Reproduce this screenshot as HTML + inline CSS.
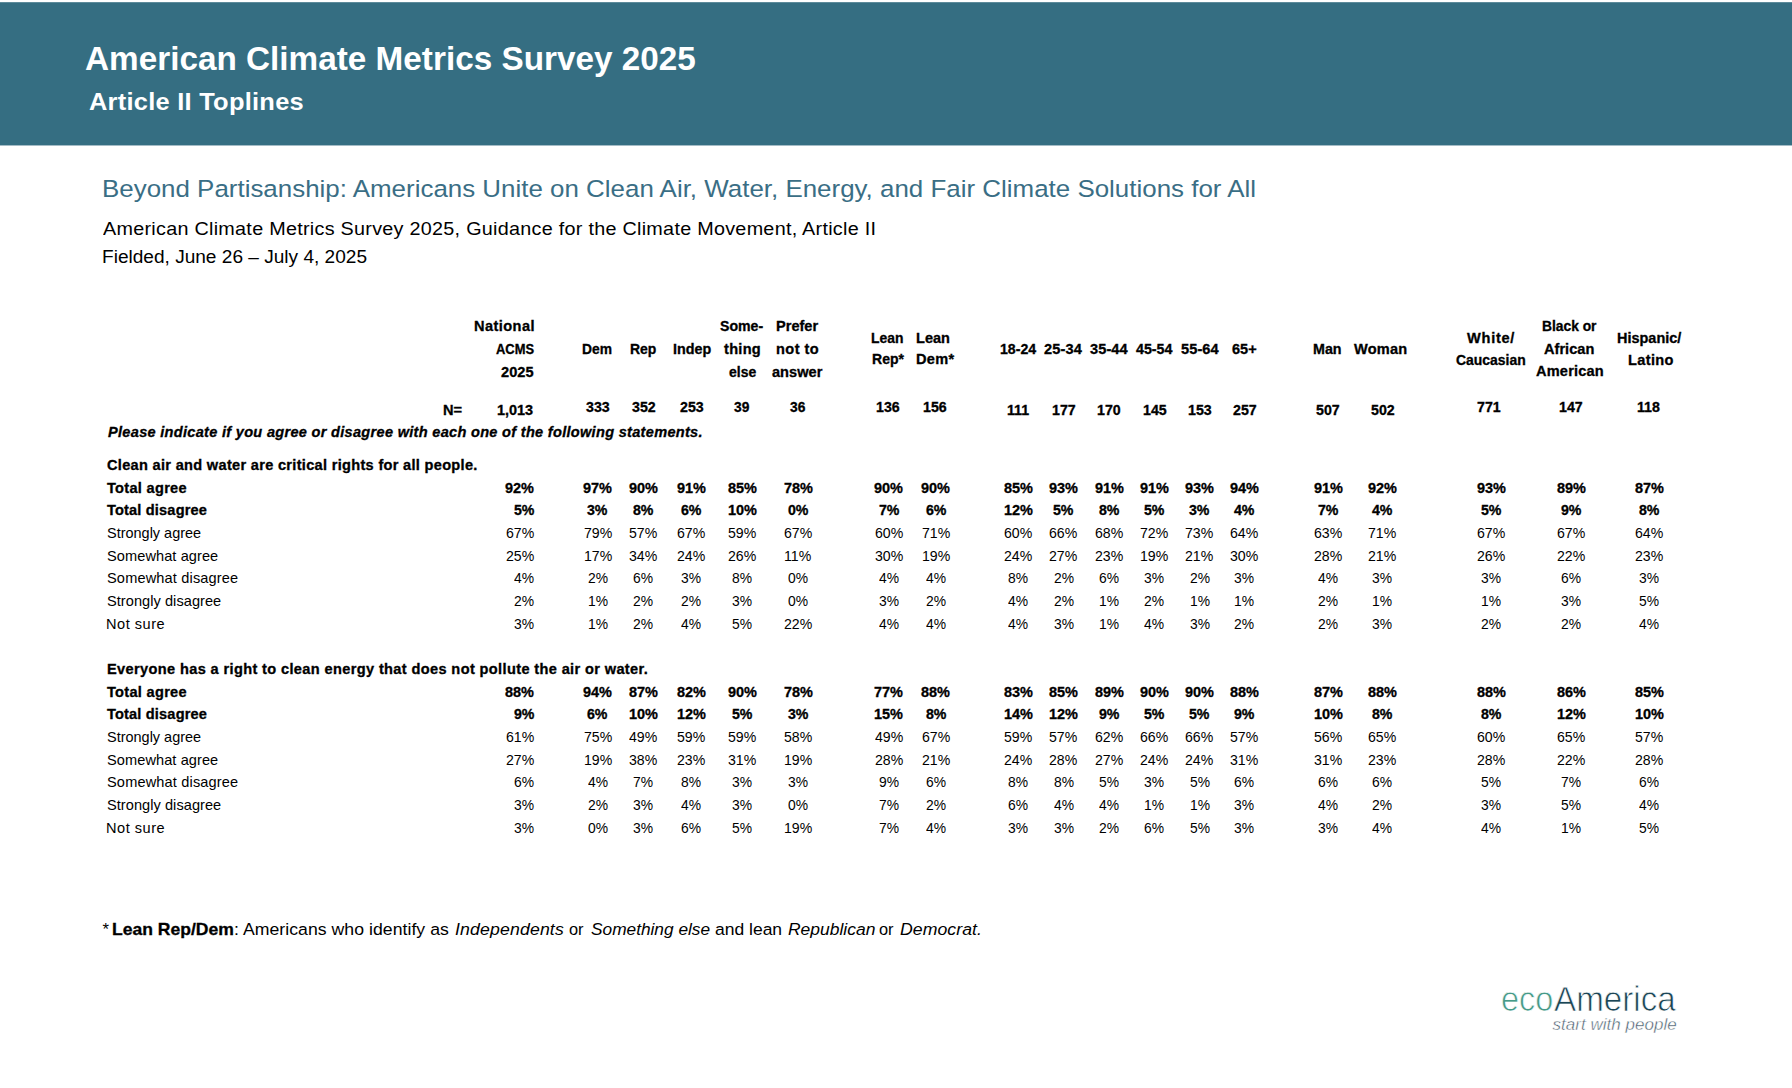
<!DOCTYPE html>
<html lang="en"><head><meta charset="utf-8"><title>American Climate Metrics Survey 2025 - Article II Toplines</title>
<style>
html,body{margin:0;padding:0;background:#fff}
body{width:1792px;height:1088px;position:relative;overflow:hidden;font-family:"Liberation Sans",sans-serif;-webkit-font-smoothing:antialiased}
#banner{position:absolute;left:0;top:2px;width:1792px;height:142px;background:#356e82;border-top:1px solid #5d8b9b;border-bottom:1px solid #a4bcc6}
#page span{position:absolute;white-space:pre;line-height:1;font-kerning:normal;transform-origin:0 0}
.k0{font-size:33px;font-weight:700;font-style:normal;color:#fff}
.k1{font-size:24px;font-weight:700;font-style:normal;color:#fff}
.k2{font-size:24.5px;font-weight:400;font-style:normal;color:#3a6e85}
.k3{font-size:18.67px;font-weight:400;font-style:normal;color:#000}
.k4{font-size:13.75px;font-weight:700;font-style:normal;color:#000;-webkit-text-stroke:0.3px #000}
.k5{font-size:13.75px;font-weight:700;font-style:italic;color:#000;-webkit-text-stroke:0.3px #000}
.k6{font-size:13.75px;font-weight:400;font-style:normal;color:#000}
.k7{font-size:16.67px;font-weight:400;font-style:normal;color:#000}
.k8{font-size:16.67px;font-weight:700;font-style:normal;color:#000;-webkit-text-stroke:0.3px #000}
.k9{font-size:16.67px;font-weight:400;font-style:italic;color:#000}

#logo span{position:absolute;white-space:pre;line-height:1;-webkit-text-stroke:0.75px #fff;paint-order:fill stroke}
#lg-eco{left:1500.7px;top:982px;font-size:35.5px;color:#469a88;transform-origin:0 0;transform:scaleX(0.915)}
#lg-am{left:1553.5px;top:982px;font-size:35.5px;color:#1c4656;transform-origin:0 0;transform:scaleX(0.935)}
#lg-tag{left:1552.6px;top:1016px;font-size:17px;font-style:italic;color:#45596a;letter-spacing:0.02px;-webkit-text-stroke-width:0.45px !important}
</style></head>
<body>
<div id="banner"></div>
<div id="page">
<span class="k0" style="left:85.40px;top:42px;transform:scaleX(1.0092)">American Climate Metrics Survey 2025</span>
<span class="k1" style="left:89.30px;top:90px;letter-spacing:0.237px;transform:scaleX(1.0600)">Article II Toplines</span>
<span class="k2" style="left:101.58px;top:177px;transform:scaleX(1.0580)">Beyond Partisanship: Americans Unite on Clean Air, Water, Energy, and Fair Climate Solutions for All</span>
<span class="k3" style="left:102.60px;top:220px;letter-spacing:0.257px;transform:scaleX(1.0600)">American Climate Metrics Survey 2025, Guidance for the Climate Movement, Article II</span>
<span class="k3" style="left:102.38px;top:248px;transform:scaleX(1.0220)">Fielded, June 26 – July 4, 2025</span>
<span class="k4" style="left:474.00px;top:320px;letter-spacing:0.401px;transform:scaleX(1.0600)">National</span>
<span class="k4" style="left:495.70px;top:343px;transform:scaleX(0.9401)">ACMS</span>
<span class="k4" style="left:500.80px;top:366px;letter-spacing:0.064px;transform:scaleX(1.0600)">2025</span>
<span class="k4" style="left:581.95px;top:343px;transform:scaleX(1.0042)">Dem</span>
<span class="k4" style="left:630.00px;top:343px;transform:scaleX(1.0165)">Rep</span>
<span class="k4" style="left:673.10px;top:343px;transform:scaleX(1.0423)">Indep</span>
<span class="k4" style="left:720.40px;top:320px;transform:scaleX(1.0273)">Some-</span>
<span class="k4" style="left:724.25px;top:343px;letter-spacing:0.262px;transform:scaleX(1.0600)">thing</span>
<span class="k4" style="left:728.50px;top:366px;transform:scaleX(1.0179)">else</span>
<span class="k4" style="left:775.70px;top:320px;transform:scaleX(1.0595)">Prefer</span>
<span class="k4" style="left:776.15px;top:343px;letter-spacing:0.426px;transform:scaleX(1.0600)">not to</span>
<span class="k4" style="left:771.70px;top:366px;letter-spacing:0.016px;transform:scaleX(1.0600)">answer</span>
<span class="k4" style="left:871.10px;top:332px;transform:scaleX(1.0097)">Lean</span>
<span class="k4" style="left:871.85px;top:353px;transform:scaleX(1.0226)">Rep*</span>
<span class="k4" style="left:916.05px;top:332px;transform:scaleX(1.0570)">Lean</span>
<span class="k4" style="left:916.00px;top:353px;letter-spacing:0.267px;transform:scaleX(1.0600)">Dem*</span>
<span class="k4" style="left:1000.05px;top:343px;transform:scaleX(1.0276)">18-24</span>
<span class="k4" style="left:1044.40px;top:343px;letter-spacing:0.129px;transform:scaleX(1.0600)">25-34</span>
<span class="k4" style="left:1089.60px;top:343px;letter-spacing:0.082px;transform:scaleX(1.0600)">35-44</span>
<span class="k4" style="left:1135.70px;top:343px;transform:scaleX(1.0360)">45-54</span>
<span class="k4" style="left:1180.50px;top:343px;letter-spacing:0.082px;transform:scaleX(1.0600)">55-64</span>
<span class="k4" style="left:1231.60px;top:343px;transform:scaleX(1.0561)">65+</span>
<span class="k4" style="left:1312.95px;top:343px;transform:scaleX(1.0369)">Man</span>
<span class="k4" style="left:1354.40px;top:343px;letter-spacing:0.202px;transform:scaleX(1.0600)">Woman</span>
<span class="k4" style="left:1467.40px;top:332px;letter-spacing:0.697px;transform:scaleX(1.0600)">White/</span>
<span class="k4" style="left:1455.75px;top:354px;transform:scaleX(1.0134)">Caucasian</span>
<span class="k4" style="left:1541.95px;top:320px;transform:scaleX(1.0035)">Black or</span>
<span class="k4" style="left:1544.25px;top:343px;letter-spacing:0.017px;transform:scaleX(1.0600)">African</span>
<span class="k4" style="left:1535.55px;top:365px;letter-spacing:0.175px;transform:scaleX(1.0600)">American</span>
<span class="k4" style="left:1616.85px;top:332px;transform:scaleX(1.0520)">Hispanic/</span>
<span class="k4" style="left:1627.50px;top:354px;letter-spacing:0.322px;transform:scaleX(1.0600)">Latino</span>
<span class="k4" style="left:443.00px;top:404px;letter-spacing:0.089px;transform:scaleX(1.0600)">N=</span>
<span class="k4" style="left:497.30px;top:404px;transform:scaleX(1.0500)">1,013</span>
<span class="k4" style="left:585.80px;top:401px;transform:scaleX(1.0303)">333</span>
<span class="k4" style="left:631.90px;top:401px;transform:scaleX(1.0303)">352</span>
<span class="k4" style="left:679.80px;top:401px;transform:scaleX(1.0303)">253</span>
<span class="k4" style="left:734.25px;top:401px;transform:scaleX(1.0034)">39</span>
<span class="k4" style="left:790.05px;top:401px;transform:scaleX(1.0034)">36</span>
<span class="k4" style="left:876.10px;top:401px;transform:scaleX(1.0303)">136</span>
<span class="k4" style="left:922.80px;top:401px;transform:scaleX(1.0303)">156</span>
<span class="k4" style="left:1006.70px;top:404px;transform:scaleX(1.0303)">111</span>
<span class="k4" style="left:1052.00px;top:404px;transform:scaleX(1.0303)">177</span>
<span class="k4" style="left:1097.30px;top:404px;transform:scaleX(1.0303)">170</span>
<span class="k4" style="left:1142.50px;top:404px;transform:scaleX(1.0303)">145</span>
<span class="k4" style="left:1187.70px;top:404px;transform:scaleX(1.0303)">153</span>
<span class="k4" style="left:1232.60px;top:404px;transform:scaleX(1.0303)">257</span>
<span class="k4" style="left:1316.40px;top:404px;transform:scaleX(1.0303)">507</span>
<span class="k4" style="left:1370.70px;top:404px;transform:scaleX(1.0303)">502</span>
<span class="k4" style="left:1477.20px;top:401px;transform:scaleX(1.0303)">771</span>
<span class="k4" style="left:1559.20px;top:401px;transform:scaleX(1.0303)">147</span>
<span class="k4" style="left:1637.00px;top:401px;transform:scaleX(1.0303)">118</span>
<span class="k5" style="left:108.00px;top:426px;letter-spacing:0.271px;transform:scaleX(1.0600)">Please indicate if you agree or disagree with each one of the following statements.</span>
<span class="k4" style="left:107.20px;top:459px;letter-spacing:0.287px;transform:scaleX(1.0600)">Clean air and water are critical rights for all people.</span>
<span class="k4" style="left:107.10px;top:482px;letter-spacing:0.278px;transform:scaleX(1.0600)">Total agree</span>
<span class="k4" style="left:505.30px;top:482px;transform:scaleX(1.0515)">92%</span>
<span class="k4" style="left:583.15px;top:482px;transform:scaleX(1.0515)">97%</span>
<span class="k4" style="left:628.85px;top:482px;transform:scaleX(1.0515)">90%</span>
<span class="k4" style="left:676.95px;top:482px;transform:scaleX(1.0515)">91%</span>
<span class="k4" style="left:727.85px;top:482px;transform:scaleX(1.0515)">85%</span>
<span class="k4" style="left:783.65px;top:482px;transform:scaleX(1.0515)">78%</span>
<span class="k4" style="left:874.45px;top:482px;transform:scaleX(1.0515)">90%</span>
<span class="k4" style="left:921.25px;top:482px;transform:scaleX(1.0515)">90%</span>
<span class="k4" style="left:1003.85px;top:482px;transform:scaleX(1.0515)">85%</span>
<span class="k4" style="left:1049.05px;top:482px;transform:scaleX(1.0515)">93%</span>
<span class="k4" style="left:1094.65px;top:482px;transform:scaleX(1.0515)">91%</span>
<span class="k4" style="left:1139.85px;top:482px;transform:scaleX(1.0515)">91%</span>
<span class="k4" style="left:1185.05px;top:482px;transform:scaleX(1.0515)">93%</span>
<span class="k4" style="left:1229.95px;top:482px;transform:scaleX(1.0515)">94%</span>
<span class="k4" style="left:1313.85px;top:482px;transform:scaleX(1.0515)">91%</span>
<span class="k4" style="left:1367.85px;top:482px;transform:scaleX(1.0515)">92%</span>
<span class="k4" style="left:1476.65px;top:482px;transform:scaleX(1.0515)">93%</span>
<span class="k4" style="left:1556.85px;top:482px;transform:scaleX(1.0515)">89%</span>
<span class="k4" style="left:1634.65px;top:482px;transform:scaleX(1.0515)">87%</span>
<span class="k4" style="left:107.10px;top:504px;letter-spacing:0.159px;transform:scaleX(1.0600)">Total disagree</span>
<span class="k4" style="left:513.80px;top:504px;transform:scaleX(1.0281)">5%</span>
<span class="k4" style="left:587.40px;top:504px;transform:scaleX(1.0281)">3%</span>
<span class="k4" style="left:633.10px;top:504px;transform:scaleX(1.0281)">8%</span>
<span class="k4" style="left:681.20px;top:504px;transform:scaleX(1.0281)">6%</span>
<span class="k4" style="left:727.85px;top:504px;transform:scaleX(1.0515)">10%</span>
<span class="k4" style="left:787.90px;top:504px;transform:scaleX(1.0281)">0%</span>
<span class="k4" style="left:878.70px;top:504px;transform:scaleX(1.0281)">7%</span>
<span class="k4" style="left:925.50px;top:504px;transform:scaleX(1.0281)">6%</span>
<span class="k4" style="left:1003.85px;top:504px;transform:scaleX(1.0515)">12%</span>
<span class="k4" style="left:1053.30px;top:504px;transform:scaleX(1.0281)">5%</span>
<span class="k4" style="left:1098.90px;top:504px;transform:scaleX(1.0281)">8%</span>
<span class="k4" style="left:1144.10px;top:504px;transform:scaleX(1.0281)">5%</span>
<span class="k4" style="left:1189.30px;top:504px;transform:scaleX(1.0281)">3%</span>
<span class="k4" style="left:1234.20px;top:504px;transform:scaleX(1.0281)">4%</span>
<span class="k4" style="left:1318.10px;top:504px;transform:scaleX(1.0281)">7%</span>
<span class="k4" style="left:1372.10px;top:504px;transform:scaleX(1.0281)">4%</span>
<span class="k4" style="left:1480.90px;top:504px;transform:scaleX(1.0281)">5%</span>
<span class="k4" style="left:1561.10px;top:504px;transform:scaleX(1.0281)">9%</span>
<span class="k4" style="left:1638.90px;top:504px;transform:scaleX(1.0281)">8%</span>
<span class="k6" style="left:107.10px;top:527px;transform:scaleX(1.0526)">Strongly agree</span>
<span class="k6" style="left:506.00px;top:527px;transform:scaleX(1.0259)">67%</span>
<span class="k6" style="left:583.50px;top:527px;transform:scaleX(1.0259)">79%</span>
<span class="k6" style="left:629.20px;top:527px;transform:scaleX(1.0259)">57%</span>
<span class="k6" style="left:677.30px;top:527px;transform:scaleX(1.0259)">67%</span>
<span class="k6" style="left:728.20px;top:527px;transform:scaleX(1.0259)">59%</span>
<span class="k6" style="left:784.00px;top:527px;transform:scaleX(1.0259)">67%</span>
<span class="k6" style="left:874.80px;top:527px;transform:scaleX(1.0259)">60%</span>
<span class="k6" style="left:921.60px;top:527px;transform:scaleX(1.0259)">71%</span>
<span class="k6" style="left:1004.20px;top:527px;transform:scaleX(1.0259)">60%</span>
<span class="k6" style="left:1049.40px;top:527px;transform:scaleX(1.0259)">66%</span>
<span class="k6" style="left:1095.00px;top:527px;transform:scaleX(1.0259)">68%</span>
<span class="k6" style="left:1140.20px;top:527px;transform:scaleX(1.0259)">72%</span>
<span class="k6" style="left:1185.40px;top:527px;transform:scaleX(1.0259)">73%</span>
<span class="k6" style="left:1230.30px;top:527px;transform:scaleX(1.0259)">64%</span>
<span class="k6" style="left:1314.20px;top:527px;transform:scaleX(1.0259)">63%</span>
<span class="k6" style="left:1368.20px;top:527px;transform:scaleX(1.0259)">71%</span>
<span class="k6" style="left:1477.00px;top:527px;transform:scaleX(1.0259)">67%</span>
<span class="k6" style="left:1557.20px;top:527px;transform:scaleX(1.0259)">67%</span>
<span class="k6" style="left:1635.00px;top:527px;transform:scaleX(1.0259)">64%</span>
<span class="k6" style="left:107.10px;top:550px;letter-spacing:0.075px;transform:scaleX(1.0600)">Somewhat agree</span>
<span class="k6" style="left:506.00px;top:550px;transform:scaleX(1.0259)">25%</span>
<span class="k6" style="left:583.50px;top:550px;transform:scaleX(1.0259)">17%</span>
<span class="k6" style="left:629.20px;top:550px;transform:scaleX(1.0259)">34%</span>
<span class="k6" style="left:677.30px;top:550px;transform:scaleX(1.0259)">24%</span>
<span class="k6" style="left:728.20px;top:550px;transform:scaleX(1.0259)">26%</span>
<span class="k6" style="left:784.00px;top:550px;transform:scaleX(1.0259)">11%</span>
<span class="k6" style="left:874.80px;top:550px;transform:scaleX(1.0259)">30%</span>
<span class="k6" style="left:921.60px;top:550px;transform:scaleX(1.0259)">19%</span>
<span class="k6" style="left:1004.20px;top:550px;transform:scaleX(1.0259)">24%</span>
<span class="k6" style="left:1049.40px;top:550px;transform:scaleX(1.0259)">27%</span>
<span class="k6" style="left:1095.00px;top:550px;transform:scaleX(1.0259)">23%</span>
<span class="k6" style="left:1140.20px;top:550px;transform:scaleX(1.0259)">19%</span>
<span class="k6" style="left:1185.40px;top:550px;transform:scaleX(1.0259)">21%</span>
<span class="k6" style="left:1230.30px;top:550px;transform:scaleX(1.0259)">30%</span>
<span class="k6" style="left:1314.20px;top:550px;transform:scaleX(1.0259)">28%</span>
<span class="k6" style="left:1368.20px;top:550px;transform:scaleX(1.0259)">21%</span>
<span class="k6" style="left:1477.00px;top:550px;transform:scaleX(1.0259)">26%</span>
<span class="k6" style="left:1557.20px;top:550px;transform:scaleX(1.0259)">22%</span>
<span class="k6" style="left:1635.00px;top:550px;transform:scaleX(1.0259)">23%</span>
<span class="k6" style="left:107.10px;top:572px;letter-spacing:0.142px;transform:scaleX(1.0600)">Somewhat disagree</span>
<span class="k6" style="left:514.20px;top:572px;transform:scaleX(1.0078)">4%</span>
<span class="k6" style="left:587.60px;top:572px;transform:scaleX(1.0078)">2%</span>
<span class="k6" style="left:633.30px;top:572px;transform:scaleX(1.0078)">6%</span>
<span class="k6" style="left:681.40px;top:572px;transform:scaleX(1.0078)">3%</span>
<span class="k6" style="left:732.30px;top:572px;transform:scaleX(1.0078)">8%</span>
<span class="k6" style="left:788.10px;top:572px;transform:scaleX(1.0078)">0%</span>
<span class="k6" style="left:878.90px;top:572px;transform:scaleX(1.0078)">4%</span>
<span class="k6" style="left:925.70px;top:572px;transform:scaleX(1.0078)">4%</span>
<span class="k6" style="left:1008.30px;top:572px;transform:scaleX(1.0078)">8%</span>
<span class="k6" style="left:1053.50px;top:572px;transform:scaleX(1.0078)">2%</span>
<span class="k6" style="left:1099.10px;top:572px;transform:scaleX(1.0078)">6%</span>
<span class="k6" style="left:1144.30px;top:572px;transform:scaleX(1.0078)">3%</span>
<span class="k6" style="left:1189.50px;top:572px;transform:scaleX(1.0078)">2%</span>
<span class="k6" style="left:1234.40px;top:572px;transform:scaleX(1.0078)">3%</span>
<span class="k6" style="left:1318.30px;top:572px;transform:scaleX(1.0078)">4%</span>
<span class="k6" style="left:1372.30px;top:572px;transform:scaleX(1.0078)">3%</span>
<span class="k6" style="left:1481.10px;top:572px;transform:scaleX(1.0078)">3%</span>
<span class="k6" style="left:1561.30px;top:572px;transform:scaleX(1.0078)">6%</span>
<span class="k6" style="left:1639.10px;top:572px;transform:scaleX(1.0078)">3%</span>
<span class="k6" style="left:107.10px;top:595px;letter-spacing:0.047px;transform:scaleX(1.0600)">Strongly disagree</span>
<span class="k6" style="left:514.20px;top:595px;transform:scaleX(1.0078)">2%</span>
<span class="k6" style="left:587.60px;top:595px;transform:scaleX(1.0078)">1%</span>
<span class="k6" style="left:633.30px;top:595px;transform:scaleX(1.0078)">2%</span>
<span class="k6" style="left:681.40px;top:595px;transform:scaleX(1.0078)">2%</span>
<span class="k6" style="left:732.30px;top:595px;transform:scaleX(1.0078)">3%</span>
<span class="k6" style="left:788.10px;top:595px;transform:scaleX(1.0078)">0%</span>
<span class="k6" style="left:878.90px;top:595px;transform:scaleX(1.0078)">3%</span>
<span class="k6" style="left:925.70px;top:595px;transform:scaleX(1.0078)">2%</span>
<span class="k6" style="left:1008.30px;top:595px;transform:scaleX(1.0078)">4%</span>
<span class="k6" style="left:1053.50px;top:595px;transform:scaleX(1.0078)">2%</span>
<span class="k6" style="left:1099.10px;top:595px;transform:scaleX(1.0078)">1%</span>
<span class="k6" style="left:1144.30px;top:595px;transform:scaleX(1.0078)">2%</span>
<span class="k6" style="left:1189.50px;top:595px;transform:scaleX(1.0078)">1%</span>
<span class="k6" style="left:1234.40px;top:595px;transform:scaleX(1.0078)">1%</span>
<span class="k6" style="left:1318.30px;top:595px;transform:scaleX(1.0078)">2%</span>
<span class="k6" style="left:1372.30px;top:595px;transform:scaleX(1.0078)">1%</span>
<span class="k6" style="left:1481.10px;top:595px;transform:scaleX(1.0078)">1%</span>
<span class="k6" style="left:1561.30px;top:595px;transform:scaleX(1.0078)">3%</span>
<span class="k6" style="left:1639.10px;top:595px;transform:scaleX(1.0078)">5%</span>
<span class="k6" style="left:106.44px;top:618px;letter-spacing:0.486px;transform:scaleX(1.0600)">Not sure</span>
<span class="k6" style="left:514.20px;top:618px;transform:scaleX(1.0078)">3%</span>
<span class="k6" style="left:587.60px;top:618px;transform:scaleX(1.0078)">1%</span>
<span class="k6" style="left:633.30px;top:618px;transform:scaleX(1.0078)">2%</span>
<span class="k6" style="left:681.40px;top:618px;transform:scaleX(1.0078)">4%</span>
<span class="k6" style="left:732.30px;top:618px;transform:scaleX(1.0078)">5%</span>
<span class="k6" style="left:784.00px;top:618px;transform:scaleX(1.0259)">22%</span>
<span class="k6" style="left:878.90px;top:618px;transform:scaleX(1.0078)">4%</span>
<span class="k6" style="left:925.70px;top:618px;transform:scaleX(1.0078)">4%</span>
<span class="k6" style="left:1008.30px;top:618px;transform:scaleX(1.0078)">4%</span>
<span class="k6" style="left:1053.50px;top:618px;transform:scaleX(1.0078)">3%</span>
<span class="k6" style="left:1099.10px;top:618px;transform:scaleX(1.0078)">1%</span>
<span class="k6" style="left:1144.30px;top:618px;transform:scaleX(1.0078)">4%</span>
<span class="k6" style="left:1189.50px;top:618px;transform:scaleX(1.0078)">3%</span>
<span class="k6" style="left:1234.40px;top:618px;transform:scaleX(1.0078)">2%</span>
<span class="k6" style="left:1318.30px;top:618px;transform:scaleX(1.0078)">2%</span>
<span class="k6" style="left:1372.30px;top:618px;transform:scaleX(1.0078)">3%</span>
<span class="k6" style="left:1481.10px;top:618px;transform:scaleX(1.0078)">2%</span>
<span class="k6" style="left:1561.30px;top:618px;transform:scaleX(1.0078)">2%</span>
<span class="k6" style="left:1639.10px;top:618px;transform:scaleX(1.0078)">4%</span>
<span class="k4" style="left:107.20px;top:663px;letter-spacing:0.344px;transform:scaleX(1.0600)">Everyone has a right to clean energy that does not pollute the air or water.</span>
<span class="k4" style="left:107.10px;top:686px;letter-spacing:0.278px;transform:scaleX(1.0600)">Total agree</span>
<span class="k4" style="left:505.30px;top:686px;transform:scaleX(1.0515)">88%</span>
<span class="k4" style="left:583.15px;top:686px;transform:scaleX(1.0515)">94%</span>
<span class="k4" style="left:628.85px;top:686px;transform:scaleX(1.0515)">87%</span>
<span class="k4" style="left:676.95px;top:686px;transform:scaleX(1.0515)">82%</span>
<span class="k4" style="left:727.85px;top:686px;transform:scaleX(1.0515)">90%</span>
<span class="k4" style="left:783.65px;top:686px;transform:scaleX(1.0515)">78%</span>
<span class="k4" style="left:874.45px;top:686px;transform:scaleX(1.0515)">77%</span>
<span class="k4" style="left:921.25px;top:686px;transform:scaleX(1.0515)">88%</span>
<span class="k4" style="left:1003.85px;top:686px;transform:scaleX(1.0515)">83%</span>
<span class="k4" style="left:1049.05px;top:686px;transform:scaleX(1.0515)">85%</span>
<span class="k4" style="left:1094.65px;top:686px;transform:scaleX(1.0515)">89%</span>
<span class="k4" style="left:1139.85px;top:686px;transform:scaleX(1.0515)">90%</span>
<span class="k4" style="left:1185.05px;top:686px;transform:scaleX(1.0515)">90%</span>
<span class="k4" style="left:1229.95px;top:686px;transform:scaleX(1.0515)">88%</span>
<span class="k4" style="left:1313.85px;top:686px;transform:scaleX(1.0515)">87%</span>
<span class="k4" style="left:1367.85px;top:686px;transform:scaleX(1.0515)">88%</span>
<span class="k4" style="left:1476.65px;top:686px;transform:scaleX(1.0515)">88%</span>
<span class="k4" style="left:1556.85px;top:686px;transform:scaleX(1.0515)">86%</span>
<span class="k4" style="left:1634.65px;top:686px;transform:scaleX(1.0515)">85%</span>
<span class="k4" style="left:107.10px;top:708px;letter-spacing:0.159px;transform:scaleX(1.0600)">Total disagree</span>
<span class="k4" style="left:513.80px;top:708px;transform:scaleX(1.0281)">9%</span>
<span class="k4" style="left:587.40px;top:708px;transform:scaleX(1.0281)">6%</span>
<span class="k4" style="left:628.85px;top:708px;transform:scaleX(1.0515)">10%</span>
<span class="k4" style="left:676.95px;top:708px;transform:scaleX(1.0515)">12%</span>
<span class="k4" style="left:732.10px;top:708px;transform:scaleX(1.0281)">5%</span>
<span class="k4" style="left:787.90px;top:708px;transform:scaleX(1.0281)">3%</span>
<span class="k4" style="left:874.45px;top:708px;transform:scaleX(1.0515)">15%</span>
<span class="k4" style="left:925.50px;top:708px;transform:scaleX(1.0281)">8%</span>
<span class="k4" style="left:1003.85px;top:708px;transform:scaleX(1.0515)">14%</span>
<span class="k4" style="left:1049.05px;top:708px;transform:scaleX(1.0515)">12%</span>
<span class="k4" style="left:1098.90px;top:708px;transform:scaleX(1.0281)">9%</span>
<span class="k4" style="left:1144.10px;top:708px;transform:scaleX(1.0281)">5%</span>
<span class="k4" style="left:1189.30px;top:708px;transform:scaleX(1.0281)">5%</span>
<span class="k4" style="left:1234.20px;top:708px;transform:scaleX(1.0281)">9%</span>
<span class="k4" style="left:1313.85px;top:708px;transform:scaleX(1.0515)">10%</span>
<span class="k4" style="left:1372.10px;top:708px;transform:scaleX(1.0281)">8%</span>
<span class="k4" style="left:1480.90px;top:708px;transform:scaleX(1.0281)">8%</span>
<span class="k4" style="left:1556.85px;top:708px;transform:scaleX(1.0515)">12%</span>
<span class="k4" style="left:1634.65px;top:708px;transform:scaleX(1.0515)">10%</span>
<span class="k6" style="left:107.10px;top:731px;transform:scaleX(1.0526)">Strongly agree</span>
<span class="k6" style="left:506.00px;top:731px;transform:scaleX(1.0259)">61%</span>
<span class="k6" style="left:583.50px;top:731px;transform:scaleX(1.0259)">75%</span>
<span class="k6" style="left:629.20px;top:731px;transform:scaleX(1.0259)">49%</span>
<span class="k6" style="left:677.30px;top:731px;transform:scaleX(1.0259)">59%</span>
<span class="k6" style="left:728.20px;top:731px;transform:scaleX(1.0259)">59%</span>
<span class="k6" style="left:784.00px;top:731px;transform:scaleX(1.0259)">58%</span>
<span class="k6" style="left:874.80px;top:731px;transform:scaleX(1.0259)">49%</span>
<span class="k6" style="left:921.60px;top:731px;transform:scaleX(1.0259)">67%</span>
<span class="k6" style="left:1004.20px;top:731px;transform:scaleX(1.0259)">59%</span>
<span class="k6" style="left:1049.40px;top:731px;transform:scaleX(1.0259)">57%</span>
<span class="k6" style="left:1095.00px;top:731px;transform:scaleX(1.0259)">62%</span>
<span class="k6" style="left:1140.20px;top:731px;transform:scaleX(1.0259)">66%</span>
<span class="k6" style="left:1185.40px;top:731px;transform:scaleX(1.0259)">66%</span>
<span class="k6" style="left:1230.30px;top:731px;transform:scaleX(1.0259)">57%</span>
<span class="k6" style="left:1314.20px;top:731px;transform:scaleX(1.0259)">56%</span>
<span class="k6" style="left:1368.20px;top:731px;transform:scaleX(1.0259)">65%</span>
<span class="k6" style="left:1477.00px;top:731px;transform:scaleX(1.0259)">60%</span>
<span class="k6" style="left:1557.20px;top:731px;transform:scaleX(1.0259)">65%</span>
<span class="k6" style="left:1635.00px;top:731px;transform:scaleX(1.0259)">57%</span>
<span class="k6" style="left:107.10px;top:754px;letter-spacing:0.075px;transform:scaleX(1.0600)">Somewhat agree</span>
<span class="k6" style="left:506.00px;top:754px;transform:scaleX(1.0259)">27%</span>
<span class="k6" style="left:583.50px;top:754px;transform:scaleX(1.0259)">19%</span>
<span class="k6" style="left:629.20px;top:754px;transform:scaleX(1.0259)">38%</span>
<span class="k6" style="left:677.30px;top:754px;transform:scaleX(1.0259)">23%</span>
<span class="k6" style="left:728.20px;top:754px;transform:scaleX(1.0259)">31%</span>
<span class="k6" style="left:784.00px;top:754px;transform:scaleX(1.0259)">19%</span>
<span class="k6" style="left:874.80px;top:754px;transform:scaleX(1.0259)">28%</span>
<span class="k6" style="left:921.60px;top:754px;transform:scaleX(1.0259)">21%</span>
<span class="k6" style="left:1004.20px;top:754px;transform:scaleX(1.0259)">24%</span>
<span class="k6" style="left:1049.40px;top:754px;transform:scaleX(1.0259)">28%</span>
<span class="k6" style="left:1095.00px;top:754px;transform:scaleX(1.0259)">27%</span>
<span class="k6" style="left:1140.20px;top:754px;transform:scaleX(1.0259)">24%</span>
<span class="k6" style="left:1185.40px;top:754px;transform:scaleX(1.0259)">24%</span>
<span class="k6" style="left:1230.30px;top:754px;transform:scaleX(1.0259)">31%</span>
<span class="k6" style="left:1314.20px;top:754px;transform:scaleX(1.0259)">31%</span>
<span class="k6" style="left:1368.20px;top:754px;transform:scaleX(1.0259)">23%</span>
<span class="k6" style="left:1477.00px;top:754px;transform:scaleX(1.0259)">28%</span>
<span class="k6" style="left:1557.20px;top:754px;transform:scaleX(1.0259)">22%</span>
<span class="k6" style="left:1635.00px;top:754px;transform:scaleX(1.0259)">28%</span>
<span class="k6" style="left:107.10px;top:776px;letter-spacing:0.142px;transform:scaleX(1.0600)">Somewhat disagree</span>
<span class="k6" style="left:514.20px;top:776px;transform:scaleX(1.0078)">6%</span>
<span class="k6" style="left:587.60px;top:776px;transform:scaleX(1.0078)">4%</span>
<span class="k6" style="left:633.30px;top:776px;transform:scaleX(1.0078)">7%</span>
<span class="k6" style="left:681.40px;top:776px;transform:scaleX(1.0078)">8%</span>
<span class="k6" style="left:732.30px;top:776px;transform:scaleX(1.0078)">3%</span>
<span class="k6" style="left:788.10px;top:776px;transform:scaleX(1.0078)">3%</span>
<span class="k6" style="left:878.90px;top:776px;transform:scaleX(1.0078)">9%</span>
<span class="k6" style="left:925.70px;top:776px;transform:scaleX(1.0078)">6%</span>
<span class="k6" style="left:1008.30px;top:776px;transform:scaleX(1.0078)">8%</span>
<span class="k6" style="left:1053.50px;top:776px;transform:scaleX(1.0078)">8%</span>
<span class="k6" style="left:1099.10px;top:776px;transform:scaleX(1.0078)">5%</span>
<span class="k6" style="left:1144.30px;top:776px;transform:scaleX(1.0078)">3%</span>
<span class="k6" style="left:1189.50px;top:776px;transform:scaleX(1.0078)">5%</span>
<span class="k6" style="left:1234.40px;top:776px;transform:scaleX(1.0078)">6%</span>
<span class="k6" style="left:1318.30px;top:776px;transform:scaleX(1.0078)">6%</span>
<span class="k6" style="left:1372.30px;top:776px;transform:scaleX(1.0078)">6%</span>
<span class="k6" style="left:1481.10px;top:776px;transform:scaleX(1.0078)">5%</span>
<span class="k6" style="left:1561.30px;top:776px;transform:scaleX(1.0078)">7%</span>
<span class="k6" style="left:1639.10px;top:776px;transform:scaleX(1.0078)">6%</span>
<span class="k6" style="left:107.10px;top:799px;letter-spacing:0.047px;transform:scaleX(1.0600)">Strongly disagree</span>
<span class="k6" style="left:514.20px;top:799px;transform:scaleX(1.0078)">3%</span>
<span class="k6" style="left:587.60px;top:799px;transform:scaleX(1.0078)">2%</span>
<span class="k6" style="left:633.30px;top:799px;transform:scaleX(1.0078)">3%</span>
<span class="k6" style="left:681.40px;top:799px;transform:scaleX(1.0078)">4%</span>
<span class="k6" style="left:732.30px;top:799px;transform:scaleX(1.0078)">3%</span>
<span class="k6" style="left:788.10px;top:799px;transform:scaleX(1.0078)">0%</span>
<span class="k6" style="left:878.90px;top:799px;transform:scaleX(1.0078)">7%</span>
<span class="k6" style="left:925.70px;top:799px;transform:scaleX(1.0078)">2%</span>
<span class="k6" style="left:1008.30px;top:799px;transform:scaleX(1.0078)">6%</span>
<span class="k6" style="left:1053.50px;top:799px;transform:scaleX(1.0078)">4%</span>
<span class="k6" style="left:1099.10px;top:799px;transform:scaleX(1.0078)">4%</span>
<span class="k6" style="left:1144.30px;top:799px;transform:scaleX(1.0078)">1%</span>
<span class="k6" style="left:1189.50px;top:799px;transform:scaleX(1.0078)">1%</span>
<span class="k6" style="left:1234.40px;top:799px;transform:scaleX(1.0078)">3%</span>
<span class="k6" style="left:1318.30px;top:799px;transform:scaleX(1.0078)">4%</span>
<span class="k6" style="left:1372.30px;top:799px;transform:scaleX(1.0078)">2%</span>
<span class="k6" style="left:1481.10px;top:799px;transform:scaleX(1.0078)">3%</span>
<span class="k6" style="left:1561.30px;top:799px;transform:scaleX(1.0078)">5%</span>
<span class="k6" style="left:1639.10px;top:799px;transform:scaleX(1.0078)">4%</span>
<span class="k6" style="left:106.44px;top:822px;letter-spacing:0.486px;transform:scaleX(1.0600)">Not sure</span>
<span class="k6" style="left:514.20px;top:822px;transform:scaleX(1.0078)">3%</span>
<span class="k6" style="left:587.60px;top:822px;transform:scaleX(1.0078)">0%</span>
<span class="k6" style="left:633.30px;top:822px;transform:scaleX(1.0078)">3%</span>
<span class="k6" style="left:681.40px;top:822px;transform:scaleX(1.0078)">6%</span>
<span class="k6" style="left:732.30px;top:822px;transform:scaleX(1.0078)">5%</span>
<span class="k6" style="left:784.00px;top:822px;transform:scaleX(1.0259)">19%</span>
<span class="k6" style="left:878.90px;top:822px;transform:scaleX(1.0078)">7%</span>
<span class="k6" style="left:925.70px;top:822px;transform:scaleX(1.0078)">4%</span>
<span class="k6" style="left:1008.30px;top:822px;transform:scaleX(1.0078)">3%</span>
<span class="k6" style="left:1053.50px;top:822px;transform:scaleX(1.0078)">3%</span>
<span class="k6" style="left:1099.10px;top:822px;transform:scaleX(1.0078)">2%</span>
<span class="k6" style="left:1144.30px;top:822px;transform:scaleX(1.0078)">6%</span>
<span class="k6" style="left:1189.50px;top:822px;transform:scaleX(1.0078)">5%</span>
<span class="k6" style="left:1234.40px;top:822px;transform:scaleX(1.0078)">3%</span>
<span class="k6" style="left:1318.30px;top:822px;transform:scaleX(1.0078)">3%</span>
<span class="k6" style="left:1372.30px;top:822px;transform:scaleX(1.0078)">4%</span>
<span class="k6" style="left:1481.10px;top:822px;transform:scaleX(1.0078)">4%</span>
<span class="k6" style="left:1561.30px;top:822px;transform:scaleX(1.0078)">1%</span>
<span class="k6" style="left:1639.10px;top:822px;transform:scaleX(1.0078)">5%</span>
<span class="k7" style="left:102.50px;top:922px">*</span>
<span class="k8" style="left:112.05px;top:922px;transform:scaleX(1.0537)">Lean Rep/Dem</span>
<span class="k7" style="left:233.54px;top:922px;letter-spacing:0.033px;transform:scaleX(1.0600)">: Americans who identify as</span>
<span class="k9" style="left:455.40px;top:922px;letter-spacing:0.149px;transform:scaleX(1.0600)">Independents</span>
<span class="k7" style="left:569.20px;top:922px;transform:scaleX(0.9827)">or</span>
<span class="k9" style="left:590.80px;top:922px;transform:scaleX(1.0371)">Something else</span>
<span class="k7" style="left:714.90px;top:922px;transform:scaleX(1.0496)">and lean</span>
<span class="k9" style="left:787.60px;top:922px;transform:scaleX(1.0485)">Republican</span>
<span class="k7" style="left:879.00px;top:922px;transform:scaleX(0.9827)">or</span>
<span class="k9" style="left:899.60px;top:922px;letter-spacing:0.058px;transform:scaleX(1.0600)">Democrat.</span>
</div>
<div id="logo">
<span id="lg-eco">eco</span><span id="lg-am">America</span>
<span id="lg-tag">start with people</span>
</div>

</body></html>
